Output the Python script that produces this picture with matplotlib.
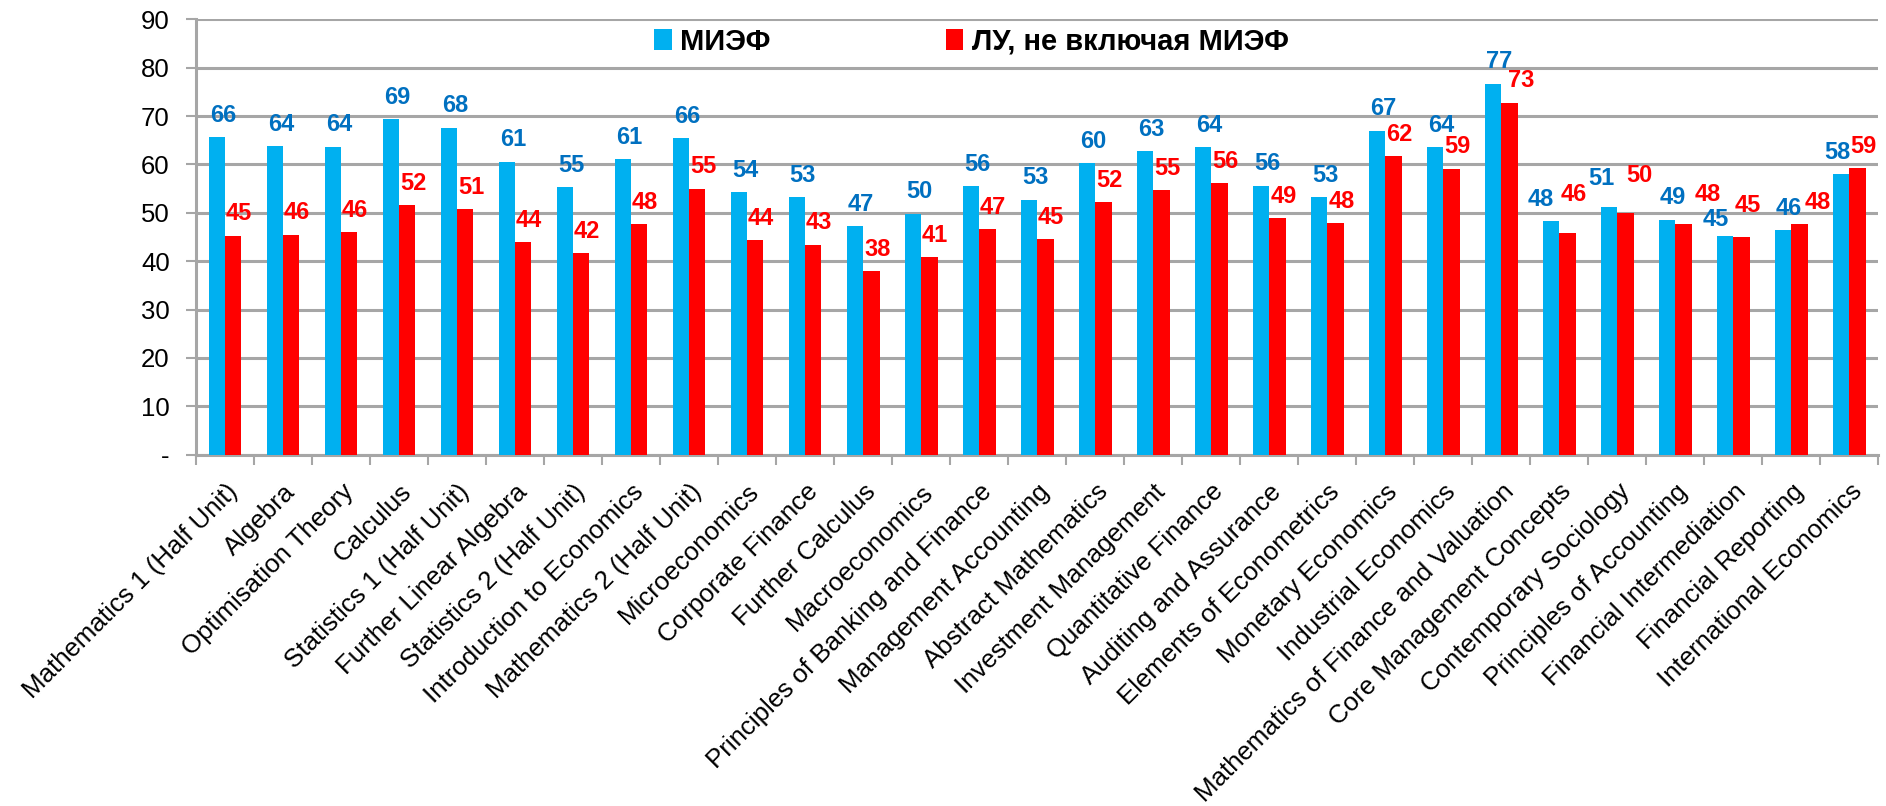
import numpy as np
import matplotlib
matplotlib.use("Agg")
import matplotlib.pyplot as plt
import matplotlib.transforms as mtransforms

plt.rcParams["font.family"] = ["Liberation Sans", "DejaVu Sans"]

courses = [
    "Mathematics 1 (Half Unit)", "Algebra", "Optimisation Theory", "Calculus",
    "Statistics 1 (Half Unit)", "Further Linear Algebra", "Statistics 2 (Half Unit)",
    "Introduction to Economics", "Mathematics 2 (Half Unit)", "Microeconomics",
    "Corporate Finance", "Further Calculus", "Macroeconomics",
    "Principles of Banking and Finance", "Management Accounting",
    "Abstract Mathematics", "Investment Management", "Quantitative Finance",
    "Auditing and Assurance", "Elements of Econometrics", "Monetary Economics",
    "Industrial Economics", "Mathematics of Finance and Valuation",
    "Core Management Concepts", "Contemporary Sociology", "Principles of Accounting",
    "Financial Intermediation", "Financial Reporting", "International Economics",
]
miep = [65.6, 63.8, 63.7, 69.4, 67.6, 60.6, 55.3, 61.1, 65.5, 54.2,
        53.2, 47.2, 49.8, 55.5, 52.7, 60.2, 62.7, 63.6, 55.6, 53.2,
        67.0, 63.6, 76.7, 48.3, 51.2, 48.6, 45.3, 46.4, 58.0]
lu = [45.3, 45.5, 46.0, 51.6, 50.8, 44.0, 41.6, 47.6, 55.0, 44.3,
      43.4, 38.0, 40.8, 46.6, 44.6, 52.2, 54.7, 56.1, 48.9, 47.8,
      61.7, 59.1, 72.8, 45.9, 50.0, 47.6, 44.9, 47.6, 59.3]

BLUE = "#00B0F0"
RED = "#FF0000"
BLUE_TXT = "#0070C0"
GRID = "#A6A6A6"

# hand-moved data labels (like in the Excel original), offsets in points
nudge_blue = {23: (-12, 0), 24: (-10, 5), 26: (-11, -4), 28: (-7, 0)}
nudge_red = {22: (4, 0), 23: (0, 12), 24: (6, 11), 25: (13, 6), 26: (0, 7), 27: (9, 0)}

fig = plt.figure(figsize=(18.86, 8.06), dpi=100)
ax = fig.add_axes([0.104, 0.436, 0.892, 0.540])

x = np.arange(len(courses))
w = 0.28
b1 = ax.bar(x - w / 2, miep, w, color=BLUE, label="МИЭФ", zorder=3)
b2 = ax.bar(x + w / 2, lu, w, color=RED, label="ЛУ, не включая МИЭФ", zorder=3)

for bars, vals, col, nudge in [(b1, miep, BLUE_TXT, nudge_blue), (b2, lu, RED, nudge_red)]:
    for i, (rect, v) in enumerate(zip(bars, vals)):
        dx, dy = nudge.get(i, (0, 0))
        ax.annotate(f"{v:.0f}", (rect.get_x() + rect.get_width() / 2 + 0.1, v),
                    xytext=(dx, 11 + dy), textcoords="offset points", ha="center",
                    va="baseline", color=col, fontsize=17, fontweight="bold")

ax.set_xlim(-0.5, len(courses) - 0.5)
ax.set_ylim(0, 90)
ax.set_yticks(range(0, 91, 10))
ax.set_yticklabels(["-"] + [str(v) for v in range(10, 91, 10)], fontsize=18.5)
ax.yaxis.grid(True, color=GRID, linewidth=2.2, zorder=0)

ax.set_xticks(x)
ax.set_xticklabels(courses, rotation=45, ha="right", va="top",
                   rotation_mode="anchor", fontsize=18.6)
shift = mtransforms.ScaledTranslation(0.08, 0, fig.dpi_scale_trans)
for lab in ax.get_xticklabels():
    lab.set_transform(lab.get_transform() + shift)
ax.set_xticks(np.arange(-0.5, len(courses)), minor=True)
ax.tick_params(axis="x", which="major", length=0, pad=18)
ax.tick_params(axis="x", which="minor", length=7, width=1.5, color=GRID)
ax.tick_params(axis="y", length=7, width=1.5, color=GRID, pad=12)

for s in ["top", "right"]:
    ax.spines[s].set_visible(False)
for s in ["left", "bottom"]:
    ax.spines[s].set_color(GRID)
    ax.spines[s].set_linewidth(2.2)

ax.legend(ncol=2, loc="center", bbox_to_anchor=(0.461, 0.949), frameon=False,
          prop={"size": 21, "weight": "bold"}, handlelength=0.6, handleheight=0.7,
          handletextpad=0.3, columnspacing=6.0)

fig.savefig("out.png", dpi=100)
